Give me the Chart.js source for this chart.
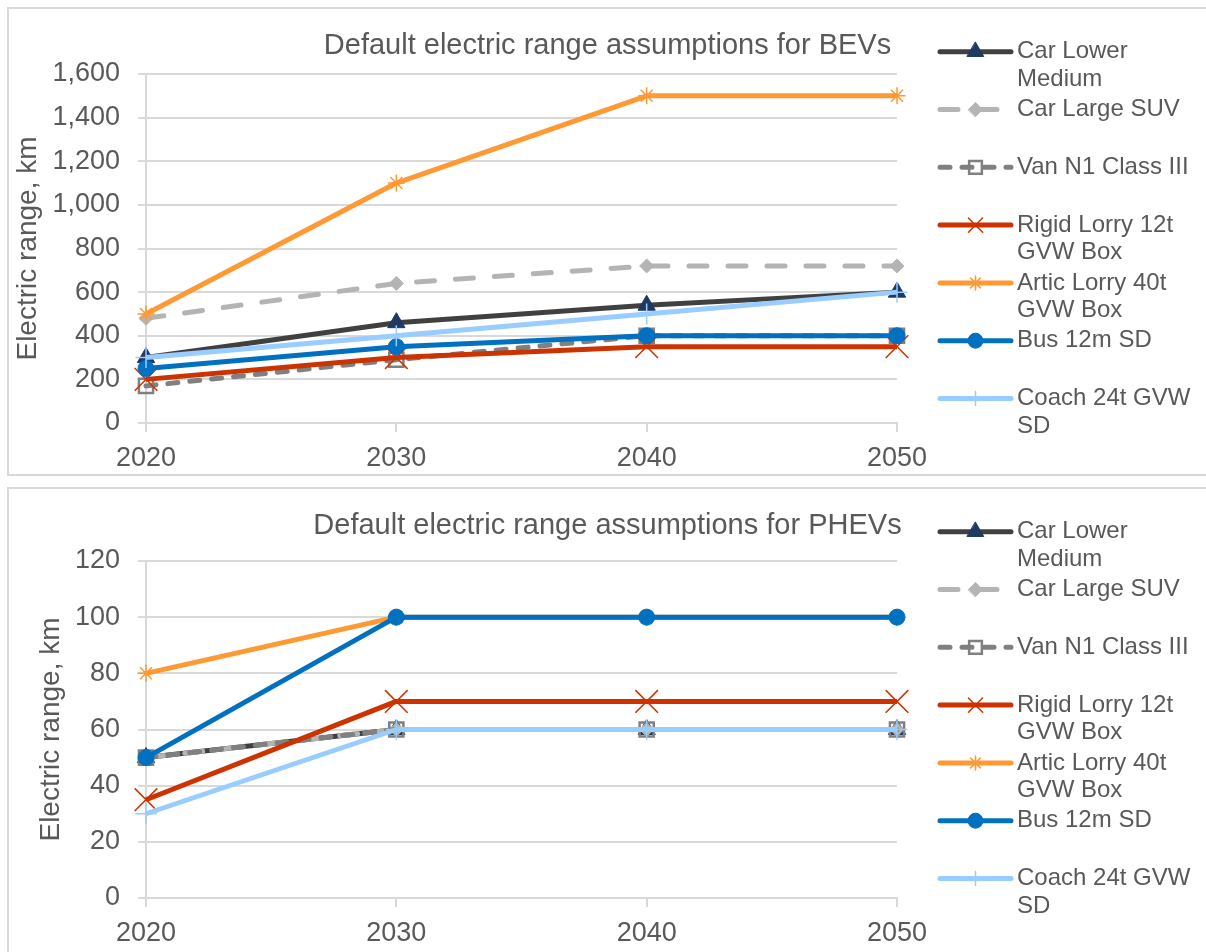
<!DOCTYPE html>
<html>
<head>
<meta charset="utf-8">
<script src="https://cdn.jsdelivr.net/npm/chart.js@4.4.1/dist/chart.umd.min.js"></script>
<style>
  body { margin: 0; background: #fff; overflow: hidden; width: 1206px; height: 952px; }
  .box { position: absolute; left: 7px; width: 1240px; height: 465px; border: 2px solid #d9d9d9; }
  .box canvas { position: absolute; left: 0; top: 0; }
</style>
</head>
<body>
<div class="box" style="top:7px"><canvas id="bevChart" width="1197" height="465"></canvas></div>
<div class="box" style="top:487px"><canvas id="phevChart" width="1197" height="465"></canvas></div>
<script>
const years = ['2020', '2030', '2040', '2050'];
const seriesNames = ['Car Lower Medium', 'Car Large SUV', 'Van N1 Class III', 'Rigid Lorry 12t GVW Box',
  'Artic Lorry 40t GVW Box', 'Bus 12m SD', 'Coach 24t GVW SD'];

// BEV electric range, km
const bevCarLowerMedium = [300, 460, 540, 600];
const bevCarLargeSUV = [480, 640, 720, 720];
const bevVanN1ClassIII = [170, 290, 400, 400];
const bevRigidLorry12t = [200, 300, 350, 350];
const bevArticLorry40t = [500, 1100, 1500, 1500];
const bevBus12m = [250, 350, 400, 400];
const bevCoach24t = [300, 400, 500, 600];
const bevYTicks = [0, 200, 400, 600, 800, 1000, 1200, 1400, 1600];

// PHEV electric range, km
const phevCarLowerMedium = [50, 60, 60, 60];
const phevCarLargeSUV = [50, 60, 60, 60];
const phevVanN1ClassIII = [50, 60, 60, 60];
const phevRigidLorry12t = [35, 70, 70, 70];
const phevArticLorry40t = [80, 100, 100, 100];
const phevBus12m = [50, 100, 100, 100];
const phevCoach24t = [30, 60, 60, 60];
const phevYTicks = [0, 20, 40, 60, 80, 100, 120];

const styles = [
  { color: '#404040', point: 'triangle', radius: 10, lr: 9.5, fill: '#1F3864', edge: '#1F3864', pw: 1, dash: [] },
  { color: '#B4B4B4', point: 'rectRot', radius: 7, lr: 7, fill: '#B4B4B4', edge: '#B4B4B4', pw: 1, dash: [18, 21] },
  { color: '#808080', point: 'rect', radius: 10, lr: 9, fill: 'rgba(0,0,0,0)', edge: '#808080', pw: 2.5, dash: [10, 12] },
  { color: '#CC3300', point: 'crossRot', radius: 16, lr: 10, fill: '#CC3300', edge: '#CC3300', pw: 1.5, dash: [] },
  { color: '#FF9933', point: 'star', radius: 8.5, lr: 7, fill: '#FF9933', edge: '#FF9933', pw: 1.5, dash: [] },
  { color: '#0070C0', point: 'circle', radius: 8, lr: 7.5, fill: '#0070C0', edge: '#0070C0', pw: 1, dash: [] },
  { color: '#99CCFF', point: 'cross', radius: 10.5, lr: 7, fill: '#99CCFF', edge: '#99CCFF', pw: 1.5, dash: [] }
];

Chart.defaults.font.family = '"Liberation Sans", Arial, sans-serif';
Chart.defaults.color = '#595959';

const sideLegend = {
  id: 'sideLegend',
  afterDraw(chart) {
    const ctx = chart.ctx;
    chart.data.datasets.forEach((ds, i) => {
      const st = styles[i];
      const y = 42.7 + i * 57.8;
      ctx.save();
      ctx.strokeStyle = st.color;
      ctx.lineWidth = 5;
      ctx.lineCap = 'round';
      ctx.setLineDash(st.dash);
      ctx.beginPath();
      ctx.moveTo(931, y);
      ctx.lineTo(1002, y);
      ctx.stroke();
      ctx.setLineDash([]);
      ctx.fillStyle = st.fill;
      ctx.strokeStyle = st.edge;
      ctx.lineWidth = st.pw;
      Chart.helpers.drawPoint(ctx, { pointStyle: st.point, radius: st.lr, rotation: 0, borderWidth: st.pw }, 966.5, y);
      ctx.restore();

      ctx.save();
      ctx.font = '24px "Liberation Sans", Arial, sans-serif';
      ctx.fillStyle = '#595959';
      ctx.textBaseline = 'middle';
      const words = ds.label.split(' ');
      const lines = [];
      let cur = '';
      words.forEach(w => {
        const t = cur ? cur + ' ' + w : w;
        if (ctx.measureText(t).width > 182 && cur) { lines.push(cur); cur = w; } else { cur = t; }
      });
      lines.push(cur);
      lines.forEach((ln, k) => ctx.fillText(ln, 1008, y + k * 27.5));
      ctx.restore();
    });
  }
};

function makeChart(id, title, seriesData, yTicks, opts) {
  const datasets = seriesData.map((vals, i) => ({
    label: seriesNames[i],
    data: vals,
    order: seriesData.length - i,
    borderColor: styles[i].color,
    borderWidth: 5,
    borderDash: styles[i].dash,
    borderCapStyle: styles[i].dash.length ? 'round' : 'butt',
    borderJoinStyle: 'round',
    pointStyle: styles[i].point,
    pointRadius: styles[i].radius,
    pointBackgroundColor: styles[i].fill,
    pointBorderColor: styles[i].edge,
    pointBorderWidth: styles[i].pw,
    tension: 0,
    fill: false
  }));

  new Chart(document.getElementById(id).getContext('2d'), {
    type: 'line',
    data: { labels: years, datasets: datasets },
    plugins: [sideLegend],
    options: {
      responsive: false,
      animation: false,
      layout: { padding: 0 },
      plugins: {
        legend: { display: false },
        tooltip: { enabled: false },
        title: {
          display: true,
          text: title,
          color: '#595959',
          font: { size: 29, weight: 'normal' },
          padding: { top: 19.6, bottom: opts.titleBottom }
        }
      },
      scales: {
        x: {
          offset: false,
          afterFit: s => { s.height = opts.xHeight; },
          grid: { drawOnChartArea: false, drawTicks: true, tickLength: 9, color: '#D9D9D9', lineWidth: 2 },
          border: { display: true, color: '#D9D9D9', width: 2 },
          ticks: { font: { size: 27 }, color: '#595959', padding: 10, maxRotation: 0, autoSkip: false }
        },
        y: {
          min: yTicks[0],
          max: yTicks[yTicks.length - 1],
          afterBuildTicks: s => { s.ticks = yTicks.map(v => ({ value: v })); },
          afterFit: s => { s.width = 137; },
          grid: { color: '#D9D9D9', lineWidth: 2, tickLength: 8, drawTicks: true },
          border: { display: true, color: '#D9D9D9', width: 2 },
          ticks: { font: { size: 27 }, color: '#595959', padding: 18 },
          title: {
            display: true,
            text: 'Electric range, km',
            color: '#595959',
            font: { size: 28 },
            padding: { top: opts.yTitlePad, bottom: 0 }
          }
        },
        // empty right-hand box that leaves room for the legend
        legendSpace: {
          position: 'right',
          min: 0,
          max: 1,
          afterFit: s => { s.width = 309; },
          grid: { display: false },
          border: { display: false },
          ticks: { display: false }
        }
      }
    }
  });
}

makeChart('bevChart', 'Default electric range assumptions for BEVs',
  [bevCarLowerMedium, bevCarLargeSUV, bevVanN1ClassIII, bevRigidLorry12t, bevArticLorry40t, bevBus12m, bevCoach24t],
  bevYTicks, { titleBottom: 10.6, xHeight: 51, yTitlePad: 2 });

makeChart('phevChart', 'Default electric range assumptions for PHEVs',
  [phevCarLowerMedium, phevCarLargeSUV, phevVanN1ClassIII, phevRigidLorry12t, phevArticLorry40t, phevBus12m, phevCoach24t],
  phevYTicks, { titleBottom: 17.6, xHeight: 56, yTitlePad: 25 });
</script>
</body>
</html>
